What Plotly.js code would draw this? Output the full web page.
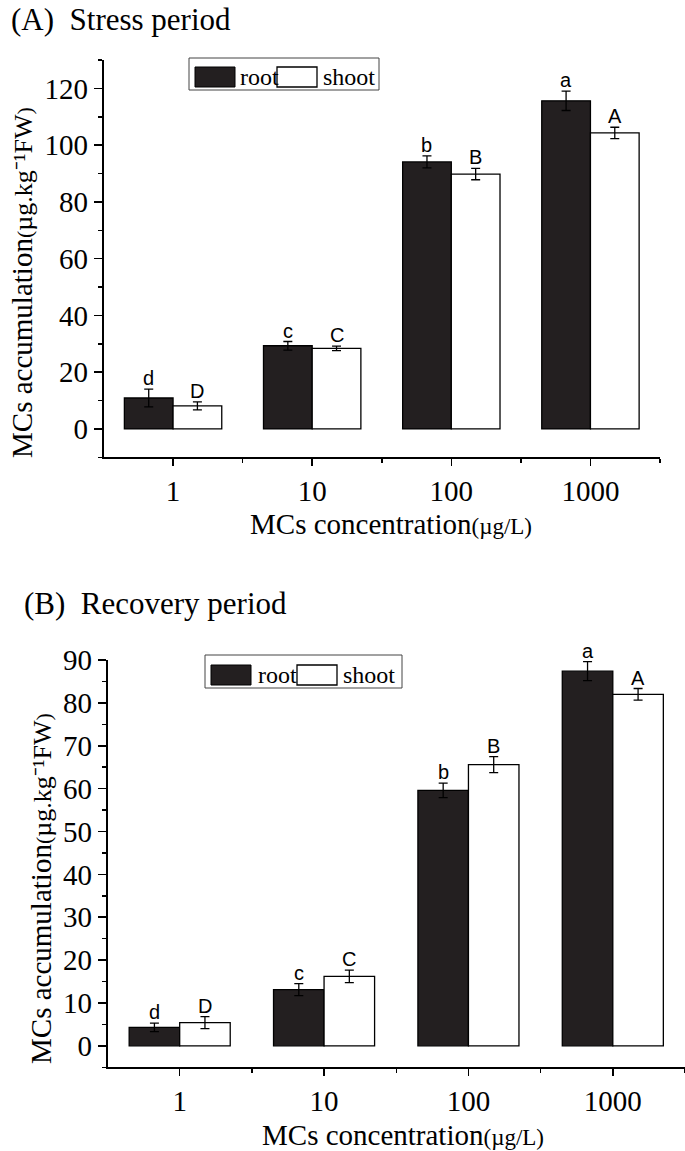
<!DOCTYPE html>
<html>
<head>
<meta charset="utf-8">
<script src="https://cdn.plot.ly/plotly-3.0.1.min.js"></script>
<style>html,body{margin:0;padding:0;background:#fff;}#chart{width:685px;height:1151px;}</style>
</head>
<body>
<div id="chart"></div>
<script>
// ---- data ----
const concentrations = ['1', '10', '100', '1000'];
const seriesNames = ['root', 'shoot'];
const stressRoot = [10.9, 29.3, 94.1, 115.6];
const stressRootErr = [3.1, 1.5, 2.1, 3.4];
const stressShoot = [8.1, 28.4, 89.8, 104.3];
const stressShootErr = [1.4, 0.8, 2.0, 2.0];
const stressRootLetters = ['d', 'c', 'b', 'a'];
const stressShootLetters = ['D', 'C', 'B', 'A'];

const recoveryRoot = [4.3, 13.1, 59.6, 87.4];
const recoveryRootErr = [1.0, 1.4, 1.7, 2.2];
const recoveryShoot = [5.4, 16.2, 65.6, 82.0];
const recoveryShootErr = [1.4, 1.45, 1.85, 1.35];
const recoveryRootLetters = ['d', 'c', 'b', 'a'];
const recoveryShootLetters = ['D', 'C', 'B', 'A'];

// ---- layout helpers ----
const W = 685, H = 1151;
const px = x => x / W;
const py = y => 1 - y / H;
const xIdx = concentrations.map((c, i) => i);
const SERIF = 'Liberation Serif';
const SANS = 'Liberation Sans';
const BARGAP = 0.3;
const half = (1 - BARGAP) / 4; // center offset of each bar in a 2-bar group
const ROOT_FILL = '#231f20', SHOOT_FILL = '#ffffff';

function barTrace(y, err, name, fill, xa, ya) {
  return {
    type: 'bar', x: xIdx, y: y, name: name,
    xaxis: xa, yaxis: ya, showlegend: false,
    marker: {color: fill, line: {color: '#000', width: 1.3}},
    error_y: {type: 'data', array: err, visible: true, color: '#000', thickness: 1.3, width: 4.5},
    hoverinfo: 'skip'
  };
}

const data = [
  barTrace(stressRoot, stressRootErr, seriesNames[0], ROOT_FILL, 'x', 'y'),
  barTrace(stressShoot, stressShootErr, seriesNames[1], SHOOT_FILL, 'x', 'y'),
  barTrace(recoveryRoot, recoveryRootErr, seriesNames[0], ROOT_FILL, 'x2', 'y2'),
  barTrace(recoveryShoot, recoveryShootErr, seriesNames[1], SHOOT_FILL, 'x2', 'y2')
];

const annotations = [];
const shapes = [];
function letters(vals, errs, labs, side, xref, yref) {
  vals.forEach((v, i) => {
    annotations.push({
      x: i + side * half, y: v + errs[i], xref: xref, yref: yref,
      text: labs[i], showarrow: false, yanchor: 'bottom', xanchor: 'center', yshift: -2,
      font: {family: SANS, size: 20, color: '#000'}
    });
  });
}
letters(stressRoot, stressRootErr, stressRootLetters, -1, 'x', 'y');
letters(stressShoot, stressShootErr, stressShootLetters, 1, 'x', 'y');
letters(recoveryRoot, recoveryRootErr, recoveryRootLetters, -1, 'x2', 'y2');
letters(recoveryShoot, recoveryShootErr, recoveryShootLetters, 1, 'x2', 'y2');

function textAnn(text, x, y, size, opts) {
  annotations.push(Object.assign({
    text: text, x: px(x), y: py(y), xref: 'paper', yref: 'paper', showarrow: false,
    xanchor: 'center', yanchor: 'middle', font: {family: SERIF, size: size, color: '#000'}
  }, opts || {}));
}
textAnn('(A)\u00a0\u00a0Stress period', 9, 0, 31, {xanchor: 'left', yanchor: 'top'});
textAnn('(B)\u00a0\u00a0Recovery period', 22, 603, 31, {xanchor: 'left'});
const yTitle = 'MCs accumulation<span style="font-size:22px">(</span><span style="font-size:26px">µg.kg\u207B\u00B9FW</span><span style="font-size:22px">)</span>';
const xTitle = 'MCs concentration<span style="font-size:23px">(µg/L)</span>';
textAnn(yTitle, 22, 283, 29, {textangle: -90});
textAnn(yTitle, 41, 889, 29, {textangle: -90});
textAnn(xTitle, 391, 524, 29);
textAnn(xTitle, 403, 1135, 29);

// ---- legends (boxed, wide swatches as in the original) ----
function legendBox(left, top, right, bottom, sw1, t1, sw2, t2, swTop, swBot) {
  shapes.push({type: 'rect', xref: 'paper', yref: 'paper', x0: px(left), x1: px(right), y0: py(bottom), y1: py(top),
    line: {color: '#444', width: 1}, fillcolor: '#fff', layer: 'above'});
  shapes.push({type: 'rect', xref: 'paper', yref: 'paper', x0: px(sw1), x1: px(sw1 + 40), y0: py(swBot), y1: py(swTop),
    line: {color: '#000', width: 1}, fillcolor: ROOT_FILL, layer: 'above'});
  shapes.push({type: 'rect', xref: 'paper', yref: 'paper', x0: px(sw2), x1: px(sw2 + 40), y0: py(swBot), y1: py(swTop),
    line: {color: '#000', width: 1.3}, fillcolor: SHOOT_FILL, layer: 'above'});
  const mid = (swTop + swBot) / 2;
  textAnn(seriesNames[0], t1, mid, 24, {xanchor: 'left'});
  textAnn(seriesNames[1], t2, mid, 24, {xanchor: 'left'});
}
legendBox(189, 58, 379, 90, 195, 238, 277, 321, 67, 87);
legendBox(205, 655, 402, 688, 211, 256, 297, 341, 665, 685);

function xAxis(domain, anchor) {
  return {
    domain: domain, anchor: anchor, range: [-0.5, 3.5],
    tickmode: 'array', tickvals: xIdx, ticktext: concentrations,
    showline: true, linecolor: '#000', linewidth: 1.6, mirror: false,
    ticks: 'outside', ticklen: 7, tickwidth: 1.5, tickcolor: '#000',
    minor: {tickmode: 'array', tickvals: [0.5, 1.5, 2.5, 3.5], ticks: 'outside', ticklen: 4, tickwidth: 1.5, tickcolor: '#000', showgrid: false},
    showgrid: false, zeroline: false, fixedrange: true,
    tickfont: {family: SERIF, size: 29, color: '#000'}
  };
}
function yAxis(domain, anchor, range, dtick) {
  return {
    domain: domain, anchor: anchor, range: range,
    tickmode: 'linear', tick0: 0, dtick: dtick,
    showline: true, linecolor: '#000', linewidth: 1.6,
    ticks: 'outside', ticklen: 8, tickwidth: 1.5, tickcolor: '#000',
    minor: {tickmode: 'linear', tick0: 0, dtick: dtick / 2, ticks: 'outside', ticklen: 4, tickwidth: 1.5, tickcolor: '#000', showgrid: false},
    showgrid: false, zeroline: false, fixedrange: true,
    tickfont: {family: SERIF, size: 29, color: '#000'}
  };
}

const layout = {
  width: W, height: H,
  margin: {l: 0, r: 0, t: 0, b: 0},
  paper_bgcolor: '#fff', plot_bgcolor: '#fff',
  showlegend: false,
  barmode: 'group', bargap: BARGAP, bargroupgap: 0,
  xaxis: xAxis([px(103.5), px(660)], 'y'),
  yaxis: yAxis([py(457.3), py(60)], 'x', [-10, 130], 20),
  xaxis2: xAxis([px(107.5), 1], 'y2'),
  yaxis2: yAxis([py(1067.3), py(660)], 'x2', [-5, 90], 10),
  shapes: shapes,
  annotations: annotations
};

Plotly.newPlot('chart', data, layout, {displayModeBar: false, staticPlot: true});
</script>
</body>
</html>
